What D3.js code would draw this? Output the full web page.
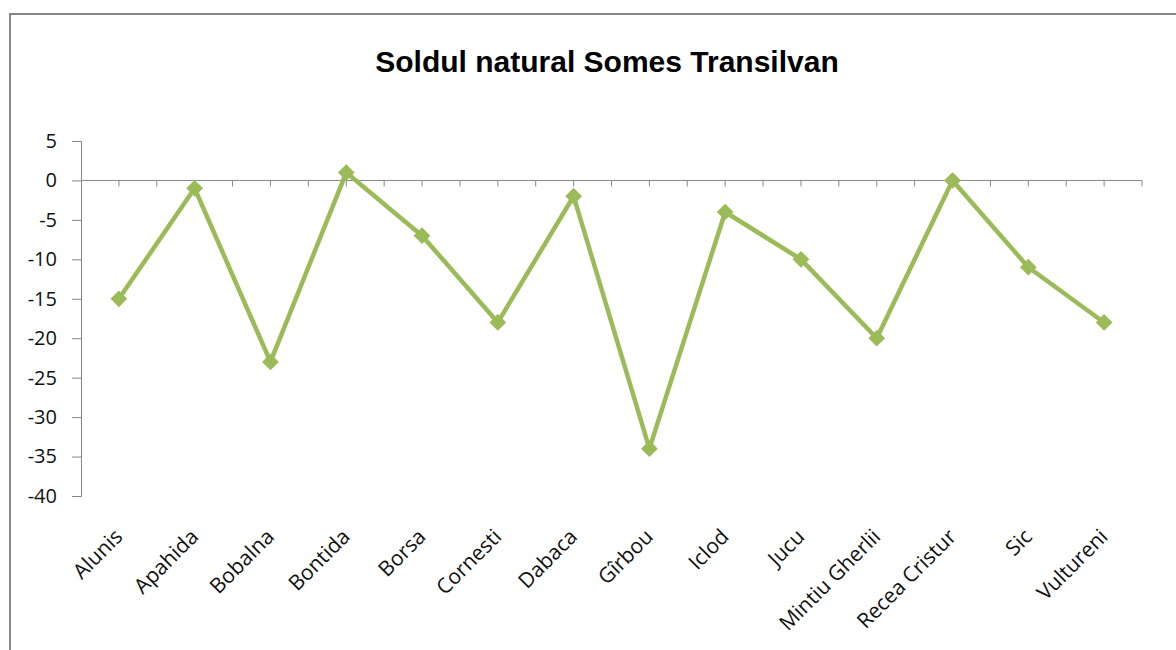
<!DOCTYPE html>
<html>
<head>
<meta charset="utf-8">
<script src="https://cdn.jsdelivr.net/npm/d3@7"></script>
<style>
  body { margin: 0; background: #fff; }
  svg { display: block; }
</style>
</head>
<body>
<svg id="chart" width="1176" height="650"></svg>
<script>
var title = "Soldul natural Somes Transilvan";
var localitati = ["Alunis", "Apahida", "Bobalna", "Bontida", "Borsa", "Cornesti", "Dabaca",
                  "Gîrbou", "Iclod", "Jucu", "Mintiu Gherlii", "Recea Cristur", "Sic", "Vultureni"];
var sold = [-15, -1, -23, 1, -7, -18, -2, -34, -4, -10, -20, 0, -11, -18];
var yTicks = [5, 0, -5, -10, -15, -20, -25, -30, -35, -40];

var svg = d3.select("#chart");
var green = "#9bbb59", axisGray = "#868686";

// chart frame (runs off the right and bottom edge)
svg.append("rect")
   .attr("x", 10).attr("y", 14)
   .attr("width", 1180).attr("height", 660)
   .attr("fill", "#fff")
   .attr("stroke", "#878787")
   .attr("stroke-width", 2);

svg.append("text")
   .attr("x", 607).attr("y", 72)
   .attr("text-anchor", "middle")
   .style("font-family", "Arial, 'Liberation Sans', sans-serif")
   .style("font-weight", "bold")
   .style("font-size", "30px")
   .text(title);

var plotLeft = 81, plotRight = 1142, plotTop = 141, plotBottom = 496;

var x = d3.scaleBand().domain(localitati).range([plotLeft, plotRight]).paddingInner(0).paddingOuter(0);
var y = d3.scaleLinear().domain([-40, 5]).range([plotBottom, plotTop]);

// y axis
var yAxis = svg.append("g")
   .attr("transform", "translate(" + plotLeft + ",0)")
   .call(d3.axisLeft(y).tickValues(yTicks).tickSize(9).tickPadding(15).tickFormat(d3.format("d")));
yAxis.select(".domain").attr("stroke", axisGray);
yAxis.selectAll(".tick line").attr("stroke", axisGray);
yAxis.selectAll("text")
   .style("font-family", "'Open Sans', sans-serif")
   .style("font-size", "20px")
   .attr("fill", "#111")
   .text(function(d) { return d < 0 ? "-" + Math.abs(d) : d; });

// x axis line at zero, ticks at category centres and boundaries
var halfTicks = [];
localitati.forEach(function(c) {
  halfTicks.push(x(c) + x.bandwidth() / 2);
  halfTicks.push(x(c) + x.bandwidth());
});
svg.append("line")
   .attr("x1", plotLeft).attr("x2", plotRight)
   .attr("y1", y(0)).attr("y2", y(0))
   .attr("stroke", axisGray).attr("stroke-width", 1);
svg.selectAll(".xtick")
   .data(halfTicks)
   .enter()
   .append("line")
   .attr("class", "xtick")
   .attr("x1", function(d) { return d; })
   .attr("x2", function(d) { return d; })
   .attr("y1", y(0))
   .attr("y2", y(0) + 6)
   .attr("stroke", axisGray);

// category labels at bottom of plot area
svg.selectAll(".xlabel")
   .data(localitati)
   .enter()
   .append("text")
   .attr("class", "xlabel")
   .attr("text-anchor", "end")
   .attr("transform", function(d) {
     return "translate(" + (x(d) + x.bandwidth() / 2 + 5) + "," + (plotBottom + 42) + ") rotate(-45)";
   })
   .style("font-family", "'Open Sans', sans-serif")
   .style("font-size", "21px")
   .attr("fill", "#111")
   .text(function(d) { return d; });

var pts = localitati.map(function(c, i) { return { name: c, v: sold[i] }; });

svg.append("path")
   .datum(pts)
   .attr("fill", "none")
   .attr("stroke", green)
   .attr("stroke-width", 4.5)
   .attr("stroke-linejoin", "round")
   .attr("d", d3.line()
     .x(function(d) { return x(d.name) + x.bandwidth() / 2; })
     .y(function(d) { return y(d.v); }));

svg.selectAll(".marker")
   .data(pts)
   .enter()
   .append("path")
   .attr("class", "marker")
   .attr("d", d3.symbol(d3.symbolSquare, 140))
   .attr("transform", function(d) {
     return "translate(" + (x(d.name) + x.bandwidth() / 2) + "," + y(d.v) + ") rotate(45)";
   })
   .attr("fill", green);
</script>
</body>
</html>
